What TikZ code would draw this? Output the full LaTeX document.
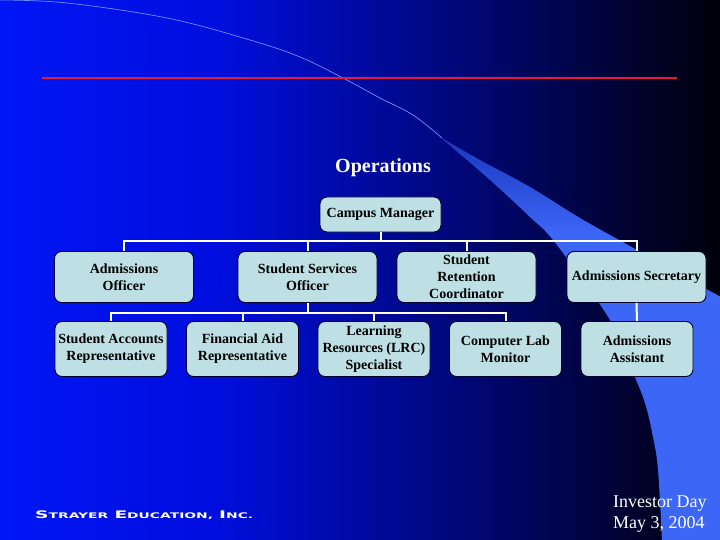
\documentclass[tikz,border=0pt]{standalone}
\usepackage{fontspec}
\usepackage{graphicx}
\setmainfont{Liberation Serif}
\newfontfamily\logofont{DejaVu Sans}

\definecolor{fondoA}{RGB}{0,22,245}
\definecolor{fondoB}{RGB}{0,14,222}
\definecolor{fondoC}{RGB}{0,0,10}
\definecolor{curva}{RGB}{60,102,245}
\definecolor{curvaosc}{RGB}{25,55,190}
\definecolor{linea}{RGB}{105,145,255}
\definecolor{rojo}{RGB}{228,24,58}
\definecolor{cajafondo}{RGB}{190,223,228}
\definecolor{borde}{RGB}{0,0,45}

% degradados del fondo y de la curva
\pgfdeclarehorizontalshading{fondo}{100bp}{color(0bp)=(fondoA); color(25bp)=(fondoA);
  color(40bp)=(fondoB); color(75bp)=(fondoC); color(100bp)=(fondoC)}
\pgfdeclareverticalshading{curvafade}{100bp}{color(0bp)=(curva); color(63bp)=(curva);
  color(75bp)=(curvaosc); color(100bp)=(curvaosc)}

\newcommand{\grande}[1]{{\fontsize{10.5}{10.5}\selectfont #1}}
\newcommand{\chica}[1]{{\fontsize{7.8}{7.8}\selectfont #1}}

\begin{document}
\begin{tikzpicture}[x=1pt, y=-1pt,
    caja/.style={draw=borde, fill=cajafondo, rounded corners=7pt, line width=0.9pt,
      align=center, inner sep=2pt, text=black, font=\bfseries\fontsize{14}{17}\selectfont},
    fila1/.style={caja, minimum width=139pt, minimum height=51pt},
    fila2/.style={caja, minimum width=112pt, minimum height=55pt},
    conector/.style={white, line width=2pt}]
    \useasboundingbox (0,0) rectangle (720,540);

    % Fondo con degradado
    \shade[shading=fondo] (0,0) rectangle (720,540);

    % Curva clara de la derecha
    \begin{scope}
        \shade[shading=curvafade]
            plot[smooth, tension=0.6] coordinates {
                (440,137) (480,160) (530,187) (580,218) (637,250) (690,280) (721,297)
            } -- (721,541) -- (662,541)
            -- plot[smooth, tension=0.6] coordinates {
                (662,541) (658,470) (653,437) (645,403) (632,370) (617,333)
                (597,300) (553,240) (530,217) (490,180) (440,137)
            } -- cycle;
    \end{scope}
    \draw[linea, line width=0.7pt]
        plot[smooth, tension=0.6] coordinates {
            (0,0) (67,3) (167,18) (250,40) (300,57) (343,78) (380,98) (413,115) (442,138)
        };

    % Linea roja
    \draw[rojo, line width=2pt] (42,78) -- (677,78);

    % Titulo
    \node[anchor=base, text=white, font=\bfseries\fontsize{20}{24}\selectfont] (titulo) at (383,173) {Operations};

    % Cajas
    \node[caja, minimum width=121pt, minimum height=35pt] (cm) at (380.5,214.5) {Campus Manager};

    \node[fila1] (ao)   at (124,277)   {Admissions\\Officer};
    \node[fila1] (sso)  at (307.5,277) {Student Services\\Officer};
    \node[fila1] (src)  at (466.5,277) {Student\\Retention\\Coordinator};
    \node[fila1] (asec) at (636.5,277) {Admissions Secretary};

    \node[fila2] (sar) at (111,349)   {Student Accounts\\Representative};
    \node[fila2] (far) at (242.5,349) {Financial Aid\\Representative};
    \node[fila2] (lrs) at (374,349)   {Learning\\Resources (LRC)\\Specialist};
    \node[fila2] (clm) at (505.5,349) {Computer Lab\\Monitor};
    \node[fila2] (aas) at (637,349)   {Admissions\\Assistant};

    % Conectores
    \draw[conector] (cm.south) -- ++(0,9) coordinate (b1);
    \draw[conector] (ao.north) |- (b1) -| (asec.north);
    \draw[conector] (sso.north) -- (sso.north |- b1);
    \draw[conector] (src.north) -- (src.north |- b1);

    \draw[conector] (sso.south) -- ++(0,10.5) coordinate (b2);
    \draw[conector] (sar.north) |- (b2) -| (clm.north);
    \draw[conector] (far.north) -- (far.north |- b2);
    \draw[conector] (lrs.north) -- (lrs.north |- b2);

    \draw[conector] (asec.south) -- (aas.north);

    % Textos de pie
    \node[anchor=base west, text=white, inner sep=0pt] (logo) at (35,518)
        {\resizebox{218pt}{7.7pt}{\logofont\bfseries
          \grande{S}\chica{TRAYER} \grande{E}\chica{DUCATION,} \grande{I}\chica{NC.}}};
    \node[anchor=base west, text=white, align=left, inner sep=0pt,
          font=\fontsize{18}{21}\selectfont] (fecha) at (613,528) {Investor Day\\May 3, 2004};
\end{tikzpicture}
\end{document}
